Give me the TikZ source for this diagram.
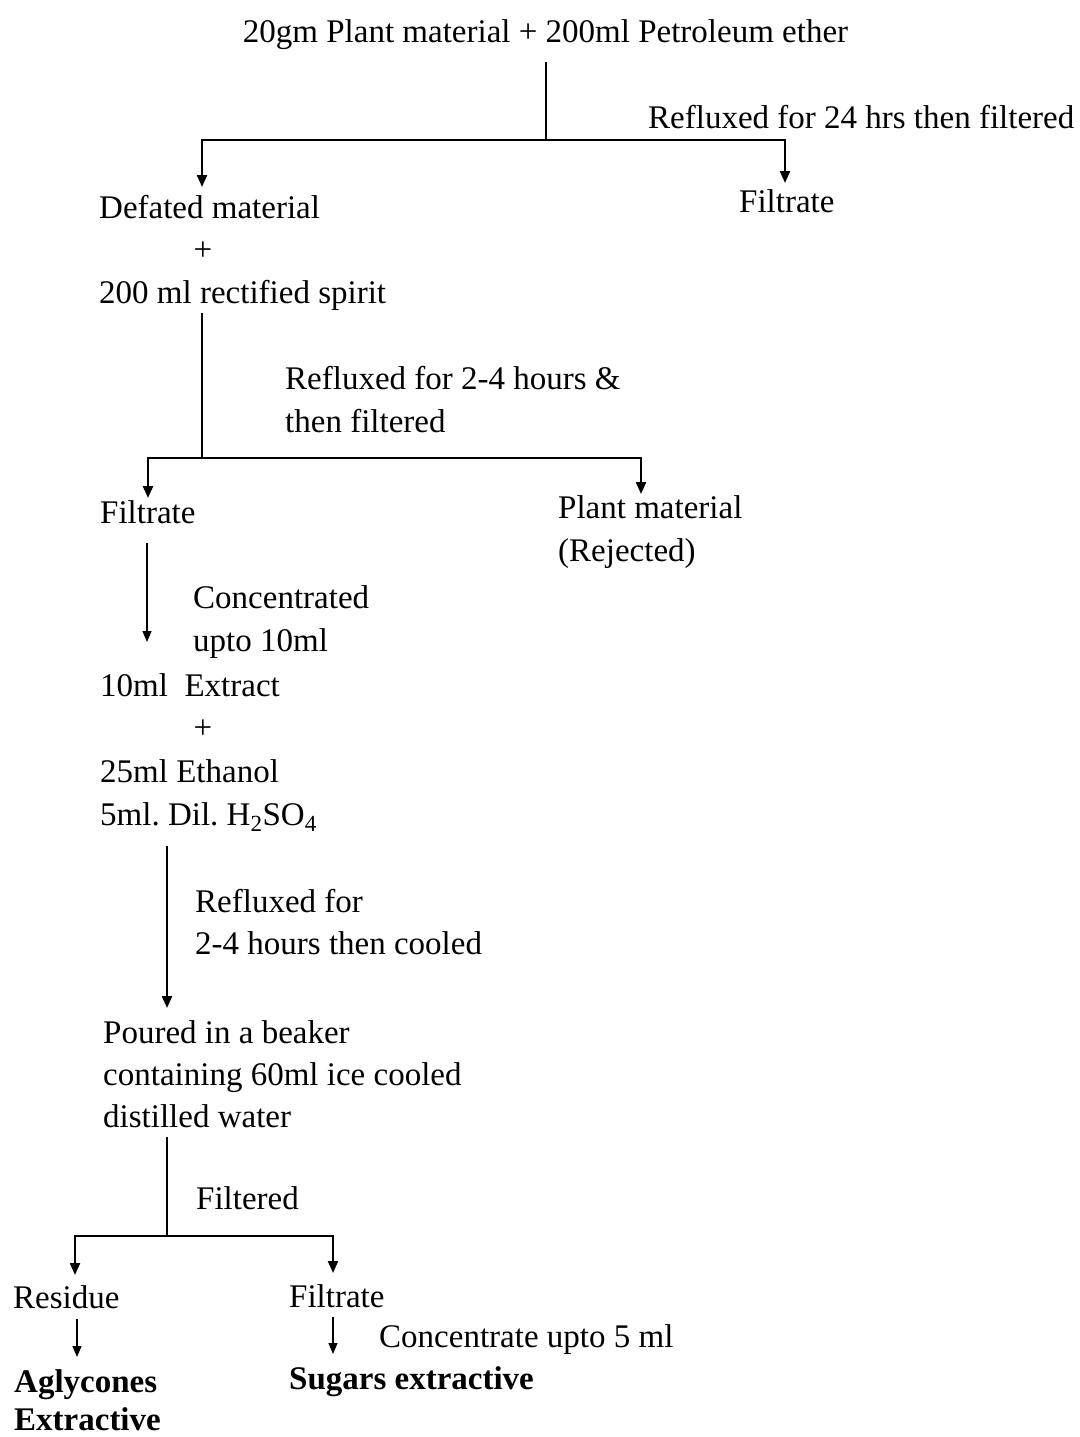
\documentclass[tikz,border=0pt]{standalone}
\usepackage{fontspec}
\setmainfont{Liberation Serif}
\usetikzlibrary{arrows.meta}
\frenchspacing
\begin{document}
\begin{tikzpicture}[x=1pt,y=-1pt,
  lbl/.style={anchor=base west, inner sep=0pt, font=\fontsize{33}{40}\selectfont},
  ctr/.style={anchor=base, inner sep=0pt, font=\fontsize{33}{40}\selectfont},
  sign/.style={anchor=center, inner sep=0pt, font=\fontsize{33}{40}\selectfont},
  result/.style={lbl, font=\fontsize{33}{40}\selectfont\bfseries},
  flow/.style={line width=2.2pt},
  arr/.style={flow, -{Triangle[length=12pt,width=10pt]}},
  smallarr/.style={line width=1.4pt, -{Triangle[length=11pt,width=9pt]}}]
\useasboundingbox (0,0) rectangle (1079,1437);

% --- texts ---
\node[ctr] (start) at (545.5,43) {20gm Plant material + 200ml Petroleum ether};
\node[lbl] (reflux1) at (648,128) {Refluxed for 24 hrs then filtered};
\node[lbl] (defat) at (99,218) {Defated material};
\node[lbl] (filtA) at (739,212) {Filtrate};
\node[sign] (plusA) at (203,251) {+};
\node[lbl] (spirit) at (99,303) {200 ml rectified spirit};
\node[lbl] (reflux2a) at (285,389) {Refluxed for 2-4 hours \&};
\node[lbl] (reflux2b) at (285,432) {then filtered};
\node[lbl] (filtB) at (100,523) {Filtrate};
\node[lbl] (plantA) at (558,518) {Plant material};
\node[lbl] (plantB) at (558,561) {(Rejected)};
\node[lbl] (concA) at (193,608) {Concentrated};
\node[lbl] (concB) at (193,651) {upto 10ml};
\node[lbl] (extract) at (100,696) {10ml\ \ Extract};
\node[sign] (plusB) at (203,729) {+};
\node[lbl] (ethanol) at (100,782) {25ml Ethanol};
\node[lbl] (acid) at (100,825) {5ml. Dil. H\textsubscript{2}SO\textsubscript{4}};
\node[lbl] (reflux3a) at (195,912) {Refluxed for};
\node[lbl] (reflux3b) at (195,954) {2-4 hours then cooled};
\node[lbl] (pourA) at (103,1043) {Poured in a beaker};
\node[lbl] (pourB) at (103,1085) {containing 60ml ice cooled};
\node[lbl] (pourC) at (103,1127) {distilled water};
\node[lbl] (filtered) at (196,1209) {Filtered};
\node[lbl] (residue) at (13,1308) {Residue};
\node[lbl] (filtC) at (289,1307) {Filtrate};
\node[lbl] (concC) at (379,1347) {Concentrate upto 5 ml};
\node[result] (aglyA) at (14,1392) {Aglycones};
\node[result] (aglyB) at (14,1430) {Extractive};
\node[result] (sugars) at (289,1389) {Sugars extractive};

% --- junction points ---
\coordinate (s1) at (546,62);
\coordinate (j1) at (546,140);
\coordinate (a1) at (202,187);
\coordinate (b1) at (785,183);
\coordinate (s2) at (202,313);
\coordinate (j2) at (202,458);
\coordinate (a2) at (148,498);
\coordinate (b2) at (641,494);
\coordinate (s3) at (147,543);
\coordinate (e3) at (147,642);
\coordinate (s4) at (167,846);
\coordinate (e4) at (167,1008);
\coordinate (s5) at (167,1137);
\coordinate (j5) at (167,1236);
\coordinate (a5) at (75,1275);
\coordinate (b5) at (333,1273);
\coordinate (s6) at (77,1319);
\coordinate (e6) at (77,1357);
\coordinate (s7) at (333,1317);
\coordinate (e7) at (333,1354);

% --- connectors ---
\draw[flow] (s1) -- (j1);
\draw[arr] (j1) -| (a1);
\draw[arr] (j1) -| (b1);
\draw[flow] (s2) -- (j2);
\draw[arr] (j2) -| (a2);
\draw[arr] (j2) -| (b2);
\draw[smallarr] (s3) -- (e3);
\draw[arr] (s4) -- (e4);
\draw[flow] (s5) -- (j5);
\draw[arr] (j5) -| (a5);
\draw[arr] (j5) -| (b5);
\draw[smallarr] (s6) -- (e6);
\draw[smallarr] (s7) -- (e7);
\end{tikzpicture}
\end{document}
